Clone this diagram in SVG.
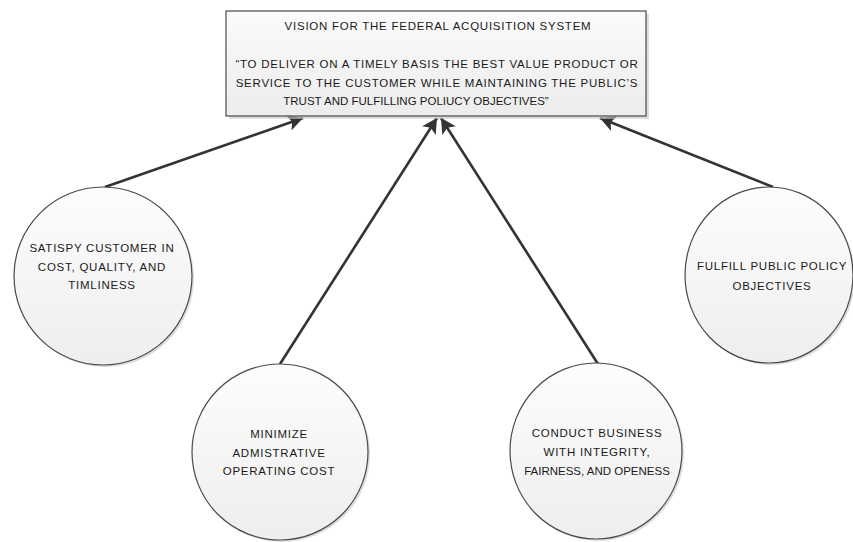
<svg xmlns="http://www.w3.org/2000/svg" width="853" height="542" viewBox="0 0 853 542">
  <style>
    .shape { stroke: #4a4a4a; stroke-width: 1.2; }
    .shade { fill: #c8c8c8; stroke: none; opacity: 0.6; }
    .label { font-family: "Liberation Sans", Arial, sans-serif; font-size: 11.5px; letter-spacing: 0.75px; fill: #1a1a1a; text-anchor: middle; }
    .tight { letter-spacing: 0px; }
    .conn { stroke: #333333; stroke-width: 2.6; fill: none; marker-end: url(#head); }
  </style>
  <defs>
    <linearGradient id="fillBox" x1="0" y1="0" x2="0" y2="1">
      <stop offset="0" stop-color="#fbfbfb"/>
      <stop offset="1" stop-color="#ececec"/>
    </linearGradient>
    <linearGradient id="fillCircle" x1="0" y1="0" x2="0" y2="1">
      <stop offset="0" stop-color="#fdfdfd"/>
      <stop offset="1" stop-color="#eeeeee"/>
    </linearGradient>
    <marker id="head" markerUnits="userSpaceOnUse" markerWidth="18" markerHeight="16" refX="15" refY="8" orient="auto">
      <path d="M0,0 L15,8 L0,16 L3.5,8 Z" fill="#333333"/>
    </marker>
  </defs>

  <rect width="853" height="542" fill="#ffffff"/>

  <!-- connectors -->
  <g id="connectors">
    <line class="conn" x1="105" y1="187" x2="303" y2="118"/>
    <line class="conn" x1="280" y1="364" x2="437" y2="118"/>
    <line class="conn" x1="598" y1="364" x2="441" y2="118"/>
    <line class="conn" x1="773" y1="187" x2="600" y2="118"/>
  </g>

  <!-- vision box -->
  <g id="vision">
    <rect class="shade" x="229" y="14" width="420" height="105"/>
    <rect class="shape" x="226" y="11" width="420" height="105" fill="url(#fillBox)"/>
    <text class="label" x="438" y="30">VISION FOR THE FEDERAL ACQUISITION SYSTEM</text>
    <text class="label" x="437" y="68">“TO DELIVER ON A TIMELY BASIS THE BEST VALUE PRODUCT OR</text>
    <text class="label" x="437" y="87">SERVICE TO THE CUSTOMER WHILE MAINTAINING THE PUBLIC’S</text>
    <text class="label tight" x="416" y="105">TRUST AND FULFILLING POLIUCY OBJECTIVES”</text>
  </g>

  <g id="customer">
    <ellipse class="shade" cx="105" cy="278" rx="89" ry="89"/>
    <ellipse class="shape" cx="103" cy="276" rx="89" ry="89" fill="url(#fillCircle)"/>
    <text class="label" x="102" y="252">SATISPY CUSTOMER IN</text>
    <text class="label" x="102" y="271">COST, QUALITY, AND</text>
    <text class="label" x="102" y="289">TIMLINESS</text>
  </g>

  <g id="cost">
    <ellipse class="shade" cx="282" cy="454" rx="88" ry="88"/>
    <ellipse class="shape" cx="280" cy="452" rx="88" ry="88" fill="url(#fillCircle)"/>
    <text class="label" x="279" y="438">MINIMIZE</text>
    <text class="label" x="279" y="457">ADMISTRATIVE</text>
    <text class="label" x="279" y="475">OPERATING COST</text>
  </g>

  <g id="integrity">
    <ellipse class="shade" cx="598" cy="453" rx="86" ry="88"/>
    <ellipse class="shape" cx="596" cy="451" rx="86" ry="88" fill="url(#fillCircle)"/>
    <text class="label" x="597" y="437">CONDUCT BUSINESS</text>
    <text class="label" x="597" y="456">WITH INTEGRITY,</text>
    <text class="label tight" x="597" y="475">FAIRNESS, AND OPENESS</text>
  </g>

  <g id="policy">
    <ellipse class="shade" cx="771" cy="277" rx="84" ry="88"/>
    <ellipse class="shape" cx="769" cy="275" rx="84" ry="88" fill="url(#fillCircle)"/>
    <text class="label" x="772" y="270">FULFILL PUBLIC POLICY</text>
    <text class="label" x="772" y="290">OBJECTIVES</text>
  </g>
</svg>
